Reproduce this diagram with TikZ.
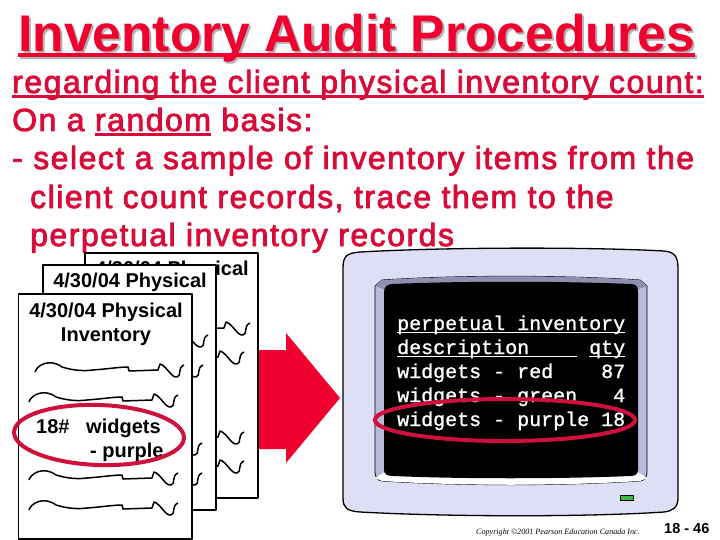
\documentclass[tikz,border=0pt]{standalone}
\usepackage{fontspec}
\setmainfont{Liberation Sans}
\setmonofont{Liberation Mono}
\newfontfamily\copyfont{Liberation Serif}
\newfontfamily\bodyfont[LetterSpace=4.7,FakeBold=2.5]{Liberation Sans}
\newfontfamily\screenfont[FakeBold=1.2]{Liberation Mono}
\definecolor{titlered}{HTML}{F0002E}
\definecolor{bodyred}{HTML}{D80A38}
\definecolor{ringred}{HTML}{D0103C}
\definecolor{casefill}{HTML}{DEDEF6}
\definecolor{bezelside}{HTML}{B9B9DA}
\definecolor{bezeltop}{HTML}{8F8FB0}
\definecolor{ledgreen}{HTML}{3CB83C}
\newcommand{\ulword}[3]{\setbox0\hbox{#1}\rlap{\rule[-#2pt]{\wd0}{#3pt}}\box0\relax}
\tikzset{
 page/.style={draw=black,fill=white,line width=1.3},
 pagetext/.style={font=\fontsize{20}{24}\bfseries\selectfont,align=center,inner sep=0},
 bodyline/.style={font=\fontsize{32}{36}\bodyfont\selectfont,text=bodyred,anchor=base west,inner sep=0},
 screenline/.style={font=\fontsize{20}{24}\screenfont\selectfont,text=white,anchor=base west,inner sep=0},
 ring/.style={draw=ringred,line width=4},
 pics/squiggle/.style={code={
  \draw[line width=1.5] (0,0) .. controls (2,-7) and (15,-14) .. (27,-5) .. controls (40,-1) and (50,-1) .. (58,-2)
   .. controls (72,-3) and (85,-5) .. (93,-5) -- (94,-1) -- (123,-2) -- (125,-8)
   .. controls (132,-6) and (136,6) .. (142,5) .. controls (147,4) and (142,-4) .. (149,-7);
 }}
}
\begin{document}
\begin{tikzpicture}[x=1pt,y=-1pt,line join=round]
\useasboundingbox (0,0) rectangle (720,540);
% title
\node[anchor=base west,inner sep=0,text=black!30,font=\fontsize{51.6}{56}\bfseries\selectfont] (titleshadow) at (20,54) {\ulword{Inventory Audit Procedures}{5}{4}};
\node[anchor=base west,inner sep=0,text=titlered,font=\fontsize{51.6}{56}\bfseries\selectfont] (title) at (18,52) {\ulword{Inventory Audit Procedures}{5}{4}};
% text
\node[bodyline] (line1) at (12,93) {\ulword{regarding the client physical inventory count:}{5}{2.5}};
\node[bodyline] (line2) at (12,131) {On a \ulword{random}{5}{2.5} basis:};
\node[bodyline] (line3) at (12,169) {- select a sample of inventory items from the};
\node[bodyline] (line4) at (30,208) {client count records, trace them to the};
\node[bodyline] (line5) at (30,246) {perpetual inventory records};
% arrow
\fill[titlered] (259,350) -- (286,350) -- (286,333) -- (340,398) -- (286,463) -- (286,449) -- (259,449) -- cycle;
% pages
\draw[page] (85,253) rectangle (258,498);
\node[pagetext] (backtitle) at (172,270) {4/30/04 Physical};
\foreach \x/\y in {101/330,95/359,95/439,95/468} \pic at (\x,\y) {squiggle};
\draw[page] (43,265) rectangle (216,510);
\node[pagetext] (midtitle) at (130,282) {4/30/04 Physical};
\foreach \x/\y in {59/342,54/372,53/450,53/480} \pic at (\x,\y) {squiggle};
\draw[page] (18.5,294) rectangle (192,539);
\node[pagetext] (fronttitle) at (106,324) {4/30/04 Physical\\Inventory};
\foreach \x/\y in {35/372,29/402,29/480,29/510} \pic at (\x,\y) {squiggle};
\node[pagetext,anchor=base west] (qty) at (36,433) {18\#};
\node[pagetext,anchor=base west] (item) at (86,433) {widgets};
\node[pagetext,anchor=base west] (color) at (90,457) {- purple};
\draw[ring,rotate around={-2:(99,435)}] (99,435) ellipse [x radius=85,y radius=30];
% monitor
\draw[fill=casefill,line width=1.3] (343,268) .. controls (343,256) and (347,253) .. (360,252) .. controls (450,247) and (590,247) .. (664,251)
 .. controls (674,252) and (678,256) .. (678,268) -- (678,498) .. controls (678,508) and (672,511) .. (664,512)
 .. controls (590,517) and (450,517) .. (360,512) .. controls (347,511) and (343,508) .. (343,498) -- cycle;
\draw[fill=bezelside,line width=0.8] (382,280) .. controls (460,275) and (560,275) .. (640,280) -- (647,286) -- (647,470) .. controls (647,478) and (645,480) .. (640,481)
 .. controls (560,486) and (460,486) .. (382,481) .. controls (377,480) and (375,478) .. (375,470) -- (375,286) -- cycle;
\fill[bezeltop] (382,280) .. controls (460,275) and (560,275) .. (640,280) -- (647,286) -- (636,290) -- (386,290) -- (375,286) -- cycle;
\fill[white] (375,478) -- (388,470) -- (634,470) -- (647,478) -- (640,481) .. controls (560,486) and (460,486) .. (382,481) -- cycle;
\fill[black] (393,284) .. controls (460,281) and (560,281) .. (630,284) .. controls (636,284) and (638,286) .. (638,292) -- (638,470) .. controls (638,475) and (634,476) .. (630,476)
 .. controls (560,479) and (460,479) .. (393,476) .. controls (387,476) and (384,474) .. (384,470) -- (384,292) .. controls (384,287) and (387,284) .. (393,284) -- cycle;
\fill[ledgreen,draw=black,line width=0.8] (620,495) rectangle (633,500);
% screen text
\node[screenline] (rec1) at (397,330) {\ulword{perpetual~inventory}{3}{1.4}};
\node[screenline] (rec2) at (397,354) {\ulword{description~~~~}{3}{1.4}~\ulword{qty}{3}{1.4}};
\node[screenline] (rec3) at (397,378) {widgets - red~~~~87};
\node[screenline] (rec4) at (397,402) {widgets - green~~~4};
\node[screenline] (rec5) at (397,426) {widgets - purple 18};
\draw[ring] (505,420) ellipse [x radius=130,y radius=21];
% footer
\node[anchor=base west,inner sep=0,font=\fontsize{8.1}{10}\copyfont\itshape\selectfont] (copy) at (476,534) {Copyright ©2001 Pearson Education Canada Inc.};
\node[anchor=base west,inner sep=0,font=\fontsize{14.5}{16}\bfseries\selectfont] (slideno) at (664,533) {18 - 46};
\end{tikzpicture}
\end{document}
